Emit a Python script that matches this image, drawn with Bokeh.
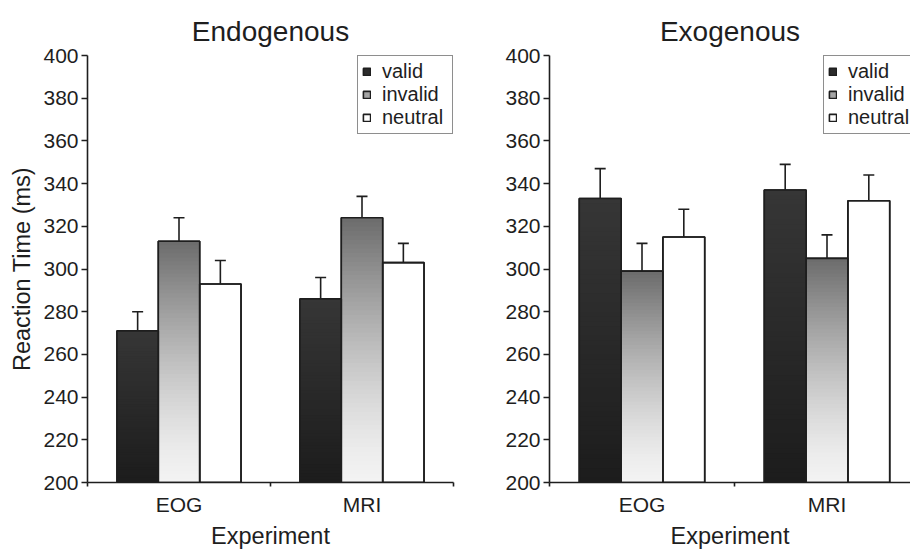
from bokeh.plotting import figure
from bokeh.models import (ColumnDataSource, Whisker, TeeHead, FixedTicker,
                          Legend, LegendItem, Range1d)
from bokeh.layouts import row
from bokeh.embed import file_html
from bokeh.resources import INLINE

# ---------------- data ----------------
experiments = ["EOG", "MRI"]
conditions = ["valid", "invalid", "neutral"]
yticks = [200, 220, 240, 260, 280, 300, 320, 340, 360, 380, 400]

endo_valid = [271, 286]
endo_invalid = [313, 324]
endo_neutral = [293, 303]
endo_valid_err = [9, 10]
endo_invalid_err = [11, 10]
endo_neutral_err = [11, 9]

exo_valid = [333, 337]
exo_invalid = [299, 305]
exo_neutral = [315, 332]
exo_valid_err = [14, 12]
exo_invalid_err = [13, 11]
exo_neutral_err = [13, 12]

FONT = "Liberation Sans"
INK = "#1e1e1e"
BASE = 200
BAR_W = 0.226
N_SLICES = 60


def grey(v):
    v = int(round(max(0, min(255, v))))
    return "#%02x%02x%02x" % (v, v, v)


def valid_color(t):
    return grey(28 + 26 * t)


def invalid_color(t):
    return grey(243 - 136 * (t ** 1.4))


SWATCH = {"valid": valid_color(0.6), "invalid": "#a4a4a4", "neutral": "white"}


def make_panel(title, vals, errs, width, bl, br, bt, xend, ylabel, legend_loc, lw):
    p = figure(width=width, height=551, output_backend="svg", toolbar_location=None,
               x_range=Range1d(0, xend), y_range=Range1d(200, 400),
               min_border_left=bl, min_border_right=br, min_border_top=bt,
               min_border_bottom=69, outline_line_color=None,
               background_fill_color="white", border_fill_color="white")
    p.grid.visible = False

    p.title.text = title
    p.title.text_font = FONT
    p.title.text_font_size = "28px"
    p.title.text_font_style = "normal"
    p.title.text_color = INK
    p.title.align = "center"
    p.title.standoff = 17

    quads = dict(left=[], right=[], bottom=[], top=[], color=[])
    bars = dict(x=[], top=[], upper=[], fill=[])
    for j, cond in enumerate(conditions):
        for i, exp in enumerate(experiments):
            v = vals[j][i]
            e = errs[j][i]
            xc = i + 0.5 + (j - 1) * BAR_W
            bars["x"].append(xc)
            bars["top"].append(v)
            bars["upper"].append(v + e)
            bars["fill"].append(SWATCH[cond])
            if cond == "neutral":
                continue
            cfun = valid_color if cond == "valid" else invalid_color
            for k in range(N_SLICES):
                b0 = BASE + (v - BASE) * k / N_SLICES
                b1 = min(v, BASE + (v - BASE) * (k + 1.8) / N_SLICES)
                quads["left"].append(xc - BAR_W / 2)
                quads["right"].append(xc + BAR_W / 2)
                quads["bottom"].append(b0)
                quads["top"].append(b1)
                quads["color"].append(cfun((k + 0.5) / N_SLICES))

    bsrc = ColumnDataSource(bars)
    r_bg = p.vbar(x="x", top="top", bottom=BASE, width=BAR_W, source=bsrc,
                  fill_color="fill", line_color=INK, line_width=1.6)
    p.quad(left="left", right="right", bottom="bottom", top="top",
           source=ColumnDataSource(quads), fill_color="color", line_color=None)
    p.vbar(x="x", top="top", bottom=BASE, width=BAR_W, source=bsrc,
           fill_color=None, line_color=INK, line_width=1.6)

    p.add_layout(Whisker(source=bsrc, base="x", lower="top", upper="upper",
                         dimension="height", line_color=INK, line_width=1.6,
                         lower_head=None,
                         upper_head=TeeHead(size=11, line_color=INK, line_width=1.6)))

    leg = Legend(items=[LegendItem(label=c, renderers=[r_bg], index=j * len(experiments))
                        for j, c in enumerate(conditions)],
                 location=legend_loc, margin=0, padding=4, spacing=0,
                 glyph_width=9, glyph_height=9, label_standoff=11,
                 label_text_font=FONT, label_text_font_size="20px",
                 label_text_color=INK, label_height=20, label_width=lw,
                 border_line_color=INK, border_line_width=1.2,
                 background_fill_color="white", background_fill_alpha=1)
    p.add_layout(leg)

    for ax in (p.xaxis[0], p.yaxis[0]):
        ax.axis_line_color = INK
        ax.axis_line_width = 1.6
        ax.major_tick_line_color = INK
        ax.major_tick_line_width = 1.6
        ax.minor_tick_line_color = INK
        ax.minor_tick_line_width = 1.6
        ax.major_label_text_font = FONT
        ax.major_label_text_font_size = "21px"
        ax.major_label_text_color = INK
        ax.axis_label_text_font = FONT
        ax.axis_label_text_font_size = "23.5px"
        ax.axis_label_text_font_style = "normal"
        ax.axis_label_text_color = INK

    p.yaxis.ticker = FixedTicker(ticks=yticks)
    p.yaxis.major_tick_out = 6
    p.yaxis.major_tick_in = 0
    p.yaxis.minor_tick_out = 0
    p.yaxis.major_label_standoff = 3
    p.yaxis.axis_label = ylabel
    p.yaxis.axis_label_standoff = 5

    p.xaxis.ticker = FixedTicker(ticks=[i + 0.5 for i in range(len(experiments))],
                                 minor_ticks=list(range(len(experiments) + 1)))
    p.xaxis.major_label_overrides = {i + 0.5: e for i, e in enumerate(experiments)}
    p.xaxis.major_tick_out = 0
    p.xaxis.major_tick_in = 0
    p.xaxis.minor_tick_out = 4
    p.xaxis.minor_tick_in = 0
    p.xaxis.major_label_standoff = 6
    p.xaxis.axis_label = "Experiment"
    p.xaxis.axis_label_standoff = 4
    return p


p1 = make_panel("Endogenous",
                [endo_valid, endo_invalid, endo_neutral],
                [endo_valid_err, endo_invalid_err, endo_neutral_err],
                460, 87, 7, 55, 2.0, "Reaction Time (ms)", "top_right", 66)

p2 = make_panel("Exogenous",
                [exo_valid, exo_invalid, exo_neutral],
                [exo_valid_err, exo_invalid_err, exo_neutral_err],
                450, 89, 0, 53, 361 / 185, None, (274, 348), 60)

layout = row(p1, p2)
open("out.html", "w").write(file_html(layout, INLINE))
